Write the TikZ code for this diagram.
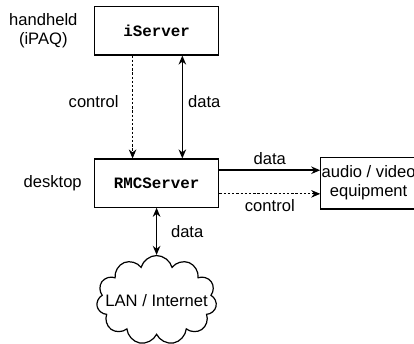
\documentclass[tikz,border=0pt]{standalone}
\usepackage{fontspec}
\setmainfont{Liberation Sans}
\setmonofont{Liberation Mono}
\usetikzlibrary{positioning, shapes.symbols, arrows.meta}

\begin{document}
\begin{tikzpicture}[node distance=2cm, font=\fontsize{11}{12.5}\selectfont, thick,
  >={Stealth[length=6pt, width=5pt]},
  box/.style={draw, rectangle, minimum width=2.9cm, minimum height=1.12cm, font=\fontsize{10.5}{12}\selectfont\ttfamily\bfseries},
  flow/.style={->, line width=1.1pt},
  ctrl/.style={->, semithick, dash pattern=on 1.6pt off 1.2pt}]
% Fix the page size
\useasboundingbox (0,0) rectangle (9.65,-8.0);

% Define nodes
\node (iserver) [box] at (3.65,-0.72) {iServer};
\node (rmcserver) [box, below=2.4cm of iserver] {RMCServer};
\node (equipment) [draw, rectangle, minimum width=2.19cm, minimum height=1.21cm, inner xsep=0.5pt, align=center, right=2.35cm of rmcserver] {audio / video\\equipment};
\node (lan) [draw, cloud, cloud puffs=11, cloud ignores aspect, inner xsep=-22pt, inner ysep=-6pt, minimum width=2.8cm, minimum height=2.08cm, below=1.1cm of rmcserver] {LAN / Internet};
\node (handheld) [align=center, left=0.25cm of iserver] {handheld\\(iPAQ)};
\node (desktop) [left=0.15cm of rmcserver] {desktop};

% Draw arrows with their labels
\draw[ctrl] ([xshift=-0.56cm]iserver.south) -- ([xshift=-0.56cm]rmcserver.north) node[midway, left=0.2cm, yshift=0.12cm] {control};
\draw[flow, <->] ([xshift=0.6cm]iserver.south) -- ([xshift=0.6cm]rmcserver.north) node[midway, right, yshift=0.12cm] {data};
\draw[flow] ([yshift=0.3cm]rmcserver.east) -- ([yshift=0.3cm]rmcserver.east -| equipment.west) node[midway, above] {data};
\draw[ctrl] ([yshift=-0.25cm]rmcserver.east) -- ([yshift=-0.25cm]rmcserver.east -| equipment.west) node[midway, below] {control};
\draw[flow, <->] (rmcserver) -- (lan) node[midway, right=0.2cm] {data};
\end{tikzpicture}
\end{document}
